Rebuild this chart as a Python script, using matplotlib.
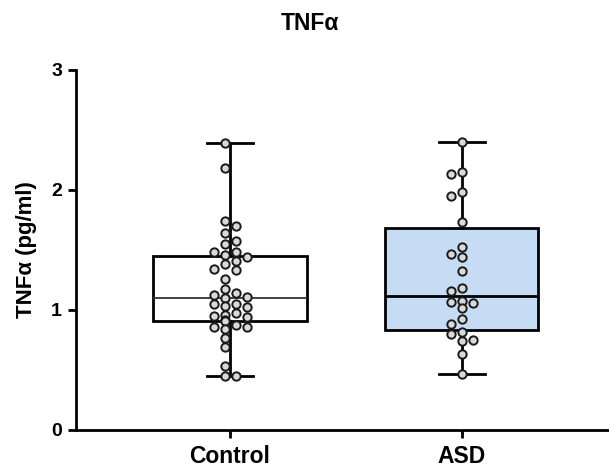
"""
    TNFa box plot, Control vs ASD
    min-max whiskers with all points on top
"""
import numpy as np
import matplotlib
matplotlib.use('Agg')
import matplotlib.pyplot as plt

groups = ['Control', 'ASD']

control = [2.394, 2.186, 1.744, 1.70, 1.639, 1.572, 1.55, 1.486, 1.481, 1.458,
           1.439, 1.411, 1.381, 1.342, 1.333, 1.256, 1.172, 1.139, 1.125, 1.106,
           1.097, 1.05, 1.047, 1.036, 1.028, 0.972, 0.958, 0.95, 0.939, 0.917,
           0.911, 0.875, 0.861, 0.856, 0.839, 0.764, 0.689, 0.536, 0.45, 0.45]

asd = [2.397, 2.147, 2.131, 1.983, 1.953, 1.733, 1.522, 1.467, 1.442, 1.328,
       1.183, 1.161, 1.072, 1.064, 1.056, 1.017, 0.928, 0.881, 0.819, 0.80,
       0.75, 0.744, 0.633, 0.467]

box_colors = ['white', '#c6dcf5']
yticks = [0, 1, 2, 3]

plt.rcParams['font.family'] = ['Liberation Sans', 'DejaVu Sans']

fig = plt.figure(figsize=(6.09, 4.70), dpi=100)
ax = fig.add_axes([76 / 609, 40 / 470, 533 / 609, 360 / 470])
ax.set_xlim(-0.664, 1.634)
ax.set_ylim(0, 3)


def box_stats(vals, label):
    q1, med, q3 = np.percentile(vals, [25, 50, 75], method='weibull')
    return dict(label=label, q1=q1, med=med, q3=q3,
                whislo=min(vals), whishi=max(vals), fliers=[])


def scatter_x(vals, pos, win=2.2, d=11, coll=9.0):
    # prism style: fixed columns, each point to the free column nearest the centre
    pts = ax.transData.transform(np.column_stack([np.full(len(vals), pos), vals]))
    cx = pts[0, 0]
    y = pts[:, 1]
    m = max(int(np.sum(np.abs(y - yi) <= win)) for yi in y)
    cols = [(k - (m - 1) / 2) * d for k in range(m)]
    cols.sort(key=lambda c: (abs(c), c))
    order = np.argsort(-y)
    placed = []
    xs = np.full(len(vals), cx)
    for i in order:
        best = cols[0]
        for c in cols:
            if all((cx + c - px) ** 2 + (y[i] - py) ** 2 >= coll ** 2 for px, py in placed):
                best = c
                break
        xs[i] = cx + best
        placed.append((xs[i], y[i]))
    return ax.transData.inverted().transform(np.column_stack([xs, y]))[:, 0]


data = [control, asd]
stats = [box_stats(v, g) for v, g in zip(data, groups)]
bp = ax.bxp(stats, positions=[0, 1], widths=0.66, capwidths=0.2, patch_artist=True,
            showfliers=False,
            boxprops=dict(linewidth=2, edgecolor='black'),
            whiskerprops=dict(linewidth=2, color='black'),
            capprops=dict(linewidth=2, color='black'),
            medianprops=dict(linewidth=2, color='black'))
for patch, col in zip(bp['boxes'], box_colors):
    patch.set_facecolor(col)
bp['medians'][0].set_linewidth(1.3)
bp['medians'][0].set_color('#333333')

for i, vals in enumerate(data):
    xs = scatter_x(vals, i)
    ax.plot(xs, vals, 'o', ms=6, mfc='#d9d9d9', mec='#1a1a1a', mew=1.4,
            linestyle='none', zorder=4)

ax.set_xticks([0, 1])
ax.set_xticklabels(groups, fontsize=16.5, fontweight='bold')
ax.set_yticks(yticks)
ax.set_yticklabels([str(t) for t in yticks], fontsize=14, fontweight='bold')
ax.tick_params(length=6, width=2, pad=4)
ax.tick_params(axis='x', pad=5)
for s in ['top', 'right']:
    ax.spines[s].set_visible(False)
for s in ['left', 'bottom']:
    ax.spines[s].set_linewidth(2)

ax.set_ylabel('TNFα (pg/ml)', fontsize=16, fontweight='bold')
ax.yaxis.set_label_coords(-0.073, 0.5)

fig.text(310 / 609, 1 - 23 / 470, 'TNFα', ha='center', va='center',
         fontsize=16.5, fontweight='bold')

fig.savefig('out.png', dpi=100)
